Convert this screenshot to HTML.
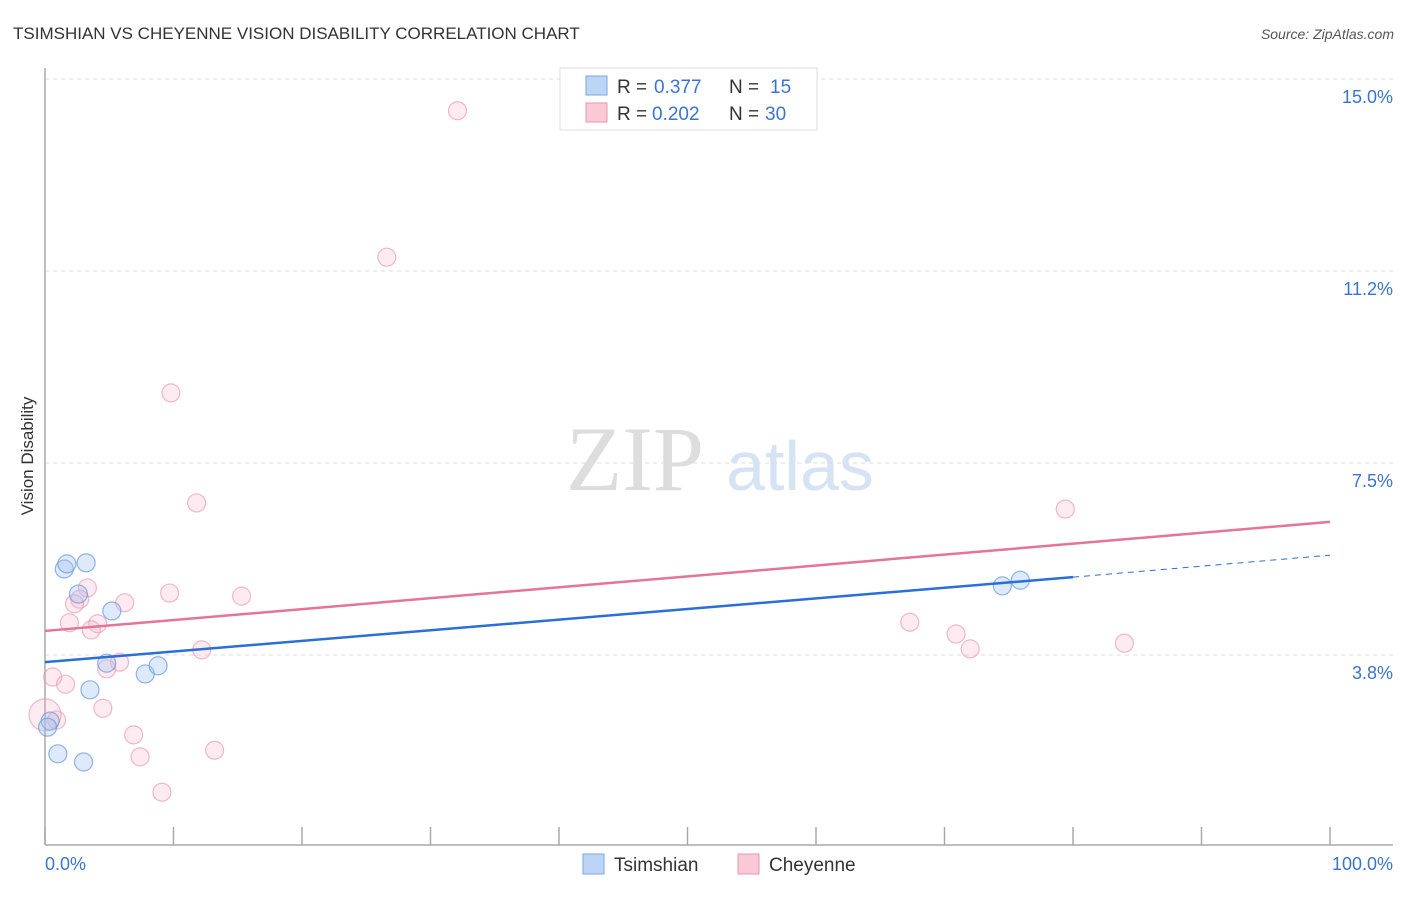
<!DOCTYPE html>
<html><head><meta charset="utf-8"><style>
body{margin:0;background:#fff;font-family:"Liberation Sans",sans-serif}
</style></head><body>
<svg width="1406" height="892" xmlns="http://www.w3.org/2000/svg">
<text x="13" y="39" font-size="17" fill="#333">TSIMSHIAN VS CHEYENNE VISION DISABILITY CORRELATION CHART</text>
<text x="1394" y="39" font-size="14" fill="#555" font-style="italic" text-anchor="end">Source: ZipAtlas.com</text>
<text x="0" y="0" transform="translate(33,456) rotate(-90)" font-size="17" fill="#333" text-anchor="middle">Vision Disability</text>
<g><text x="635" y="490" font-size="92" fill="#ddd" font-family="Liberation Serif" text-anchor="middle">ZIP</text><text x="800" y="490" font-size="70" fill="#d5e3f5" text-anchor="middle">atlas</text></g>
<g id="grid"></g><g id="axes"></g><g id="marks"></g>
<g>
<rect x="560" y="68" width="257" height="62" fill="#fff" stroke="#ddd"/>
<rect x="586" y="76" width="21" height="19" fill="#bcd5f5" stroke="#7aa6e3"/>
<rect x="586" y="103" width="21" height="19" fill="#f9c9d7" stroke="#ec93ae"/>
<text x="617" y="93" font-size="19" fill="#333">R =</text>
<text x="654" y="93" font-size="19" fill="#3a74d0">0.377</text>
<text x="729" y="93" font-size="19" fill="#333">N =</text>
<text x="770" y="93" font-size="19" fill="#3a74d0">15</text>
<text x="617" y="120" font-size="19" fill="#333">R =</text>
<text x="652" y="120" font-size="19" fill="#3a74d0">0.202</text>
<text x="729" y="120" font-size="19" fill="#333">N =</text>
<text x="765" y="120" font-size="19" fill="#3a74d0">30</text>
</g>
<g>
<rect x="583" y="854" width="21" height="20" fill="#bcd5f5" stroke="#7aa6e3"/>
<text x="614" y="871" font-size="19" fill="#333">Tsimshian</text>
<rect x="738" y="854" width="21" height="20" fill="#f9c9d7" stroke="#ec93ae"/>
<text x="769" y="871" font-size="19" fill="#333">Cheyenne</text>
</g>
<text x="45" y="870" font-size="18" fill="#3a74d0">0.0%</text>
<text x="1393" y="870" font-size="18" fill="#3a74d0" text-anchor="end">100.0%</text>
</svg>
<script>
const yTicks=[15.0,11.25,7.5,3.75];
const yTickLabels=["15.0%","11.2%","7.5%","3.8%"];
const blueX=[1.5,1.7,3.2,2.6,5.2,4.8,7.8,8.8,3.5,0.4,0.2,1.0,3.0,74.5,75.9];
const blueY=[5.43,5.53,5.55,4.94,4.61,3.59,3.38,3.54,3.07,2.46,2.34,1.82,1.66,5.10,5.21];
const pinkX=[32.1,26.6,9.8,11.8,79.4,3.3,2.7,2.3,6.2,9.7,15.3,1.9,4.1,3.6,67.3,70.9,72.0,84.0,12.2,5.8,4.8,0.6,1.6,4.5,0.9,0.0,6.9,7.4,13.2,9.1];
const pinkY=[14.38,11.52,8.87,6.72,6.60,5.06,4.84,4.75,4.77,4.96,4.90,4.38,4.36,4.24,4.39,4.16,3.87,3.98,3.85,3.61,3.48,3.32,3.18,2.71,2.48,2.58,2.19,1.76,1.89,1.07];
const pinkR=[9,9,9,9,9,9,9,9,9,9,9,9,9,9,9,9,9,9,9,9,9,9,9,9,9,16,9,9,9,9];
const blueTrend=[3.61,5.27,5.70]; // at x=0, 80, 100
const pinkTrend=[4.22,6.35]; // at x=0,100
const NS="http://www.w3.org/2000/svg";
const sx=v=>45+v*12.85, sy=v=>847-v*51.2;
function mk(t,a,p){const e=document.createElementNS(NS,t);for(const k in a)e.setAttribute(k,a[k]);p.appendChild(e);return e;}
const grid=document.getElementById('grid'),axes=document.getElementById('axes'),marks=document.getElementById('marks');
yTicks.forEach((v,i)=>{
 const l=mk('line',{x1:45,x2:1393,y1:sy(v),y2:sy(v),stroke:'#ddd','stroke-dasharray':'4,4'},grid);
 
 
 const t=mk('text',{x:1393,y:sy(v)+24,'font-size':18,fill:'#3a74d0','text-anchor':'end'},grid);
 t.textContent=yTickLabels[i];
 
 
});
const ya=mk('line',{x1:45,x2:45,y1:68,y2:845,stroke:'#aaa','stroke-width':1.5},axes);


const xa=mk('line',{x1:45,x2:1393,y1:845,y2:845,stroke:'#aaa','stroke-width':1.5},axes);


for(let i=0;i<=10;i++){const t=mk('line',{x1:sx(i*10),x2:sx(i*10),y1:827,y2:845,stroke:'#aaa','stroke-width':1.5},axes);
 
 }
pinkX.forEach((x,i)=>{const c=mk('circle',{cx:sx(x),cy:sy(pinkY[i]),r:pinkR[i],fill:'rgba(246,175,198,0.25)',stroke:'rgba(232,140,170,0.6)','stroke-width':1.2},marks);
 
 });
blueX.forEach((x,i)=>{const c=mk('circle',{cx:sx(x),cy:sy(blueY[i]),r:9,fill:'rgba(160,195,240,0.35)',stroke:'rgba(100,150,220,0.7)','stroke-width':1.2},marks);
 
 });
const pl=mk('line',{x1:sx(0),y1:sy(pinkTrend[0]),x2:sx(100),y2:sy(pinkTrend[1]),stroke:'#e5739a','stroke-width':2.5},marks);


const bl=mk('line',{x1:sx(0),y1:sy(blueTrend[0]),x2:sx(80),y2:sy(blueTrend[1]),stroke:'#2a6fd6','stroke-width':2.5},marks);


const bd=mk('line',{x1:sx(80),y1:sy(blueTrend[1]),x2:sx(100),y2:sy(blueTrend[2]),stroke:'#2a6fd6','stroke-width':1,'stroke-dasharray':'6,5'},marks);


</script>
</body></html>
